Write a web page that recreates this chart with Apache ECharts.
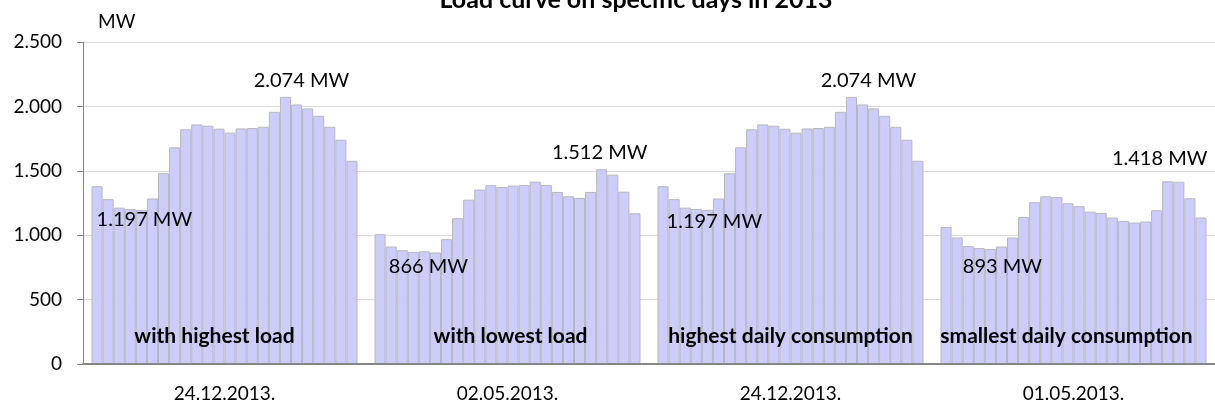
<!DOCTYPE html>
<html>
    <head>
        <meta charset="utf-8">
        <title>Load curve on specific days in 2013</title>
        <script src="https://cdn.jsdelivr.net/npm/echarts@6/dist/echarts.min.js"></script>
        <style>
            html, body { margin: 0; padding: 0; background: #fff; }
            #chart1 { width: 1215px; height: 405px; }
        </style>
    </head>
    <body>
        <div id="chart1"></div>
    </body>
    <script type="text/javascript">
        // podaci - satno opterecenje (MW)
        var dates = ['24.12.2013.', '02.05.2013.', '24.12.2013.', '01.05.2013.'];
        var dayNames = ['with highest load', 'with lowest load', 'highest daily consumption', 'smallest daily consumption'];
        var hours = ['1','2','3','4','5','6','7','8','9','10','11','12','13','14','15','16','17','18','19','20','21','22','23','24'];

        var load1 = [1380,1280,1214,1203,1197,1285,1481,1682,1822,1860,1850,1827,1796,1829,1832,1842,1958,2074,2015,1984,1927,1842,1741,1578];
        var load2 = [1008,912,884,870,875,866,969,1132,1276,1354,1388,1374,1385,1390,1416,1390,1336,1302,1289,1336,1512,1470,1338,1170];
        var load3 = [1380,1280,1214,1203,1197,1285,1481,1682,1822,1860,1850,1827,1796,1829,1832,1842,1958,2074,2015,1984,1927,1842,1741,1578];
        var load4 = [1064,982,915,900,893,912,982,1142,1256,1302,1297,1248,1225,1183,1173,1137,1111,1098,1106,1194,1418,1415,1287,1137];

        var loads = [load1, load2, load3, load4];
        var FONT = 'Lato';

        // 2074 -> "2.074"
        function fmt(v) {
            var s = String(v);
            return s.length > 3 ? s.slice(0, s.length - 3) + '.' + s.slice(-3) : s;
        }

        // rucno pomaknute oznake (kao u Excelu)
        var peakOff = [[16, -16], [-2, -17], [17, -16], [-8, -23]];
        var lowOff = [[3, 10], [-7, 14], [7, 12], [12, 18]];
        var nameOff = [-10, 3, 0, -7];

        var gTop = 42, gBottom = 41, gLeft = 83, plotW = 1215 - 83;
        var slot = plotW / 4, pad = 8.5;

        var grids = [{left: gLeft, right: 0, top: gTop, bottom: gBottom}];
        var xAxes = [{
            type: 'category', gridIndex: 0, data: dates, z: 5,
            axisLine: {lineStyle: {color: '#868686', width: 2}},
            axisTick: {length: 7, lineStyle: {color: '#000'}},
            axisLabel: {color: '#000', fontFamily: FONT, fontSize: 19, margin: 20}
        }];
        var yAxes = [{
            type: 'value', gridIndex: 0, min: 0, max: 2500, interval: 500,
            name: 'MW', nameLocation: 'end', nameGap: 20,
            nameTextStyle: {color: '#000', fontFamily: FONT, fontSize: 19, align: 'left', verticalAlign: 'middle', padding: [0, 0, 0, 15]},
            axisLine: {show: true, lineStyle: {color: '#868686'}},
            axisTick: {show: true, length: 6, lineStyle: {color: '#868686'}},
            axisLabel: {color: '#000', fontFamily: FONT, fontSize: 19, margin: 21, formatter: function (v) { return fmt(v); }},
            splitLine: {lineStyle: {color: '#d9d9d9'}}
        }];

        var series = [];
        loads.forEach(function (arr, g) {
            var gi = g + 1;
            grids.push({left: gLeft + g * slot + pad, width: slot - 2 * pad, top: gTop, bottom: gBottom});
            xAxes.push({type: 'category', gridIndex: gi, data: hours, show: false});
            yAxes.push({type: 'value', gridIndex: gi, min: 0, max: 2500, show: false, splitLine: {show: false}});
            var maxV = Math.max.apply(null, arr), minV = Math.min.apply(null, arr);
            var data = arr.map(function (v) {
                var off = null;
                if (v === maxV) off = peakOff[g];
                else if (v === minV) off = lowOff[g];
                if (!off) return v;
                return {
                    value: v,
                    label: {
                        show: true, position: 'top', distance: 0, verticalAlign: 'middle',
                        offset: off, formatter: fmt(v) + ' MW',
                        color: '#000', fontFamily: FONT, fontSize: 20
                    }
                };
            });
            series.push({
                type: 'bar', xAxisIndex: gi, yAxisIndex: gi,
                barCategoryGap: 0, data: data, silent: true,
                itemStyle: {color: '#ccccff', borderColor: '#b8b8b8', borderWidth: 1}
            });
        });

        // nazivi dana u dnu stupaca
        series.push({
            type: 'bar', xAxisIndex: 0, yAxisIndex: 0, z: 10, silent: true,
            itemStyle: {color: 'transparent'},
            data: dayNames.map(function (n, i) {
                return {
                    value: 0,
                    label: {
                        show: true, position: 'top', distance: 0, verticalAlign: 'middle',
                        offset: [nameOff[i], -27.5], formatter: n,
                        color: '#000', fontFamily: FONT, fontSize: 21, fontWeight: 'bold'
                    }
                };
            })
        });

        var myChart1 = echarts.init(document.getElementById('chart1'));
        myChart1.setOption({
            animation: false,
            title: {
                text: 'Load curve on specific days in 2013',
                left: 636, top: -13, padding: 0, textAlign: 'center',
                textStyle: {color: '#000', fontFamily: FONT, fontSize: 25, fontWeight: 'bold'}
            },
            grid: grids,
            xAxis: xAxes,
            yAxis: yAxes,
            series: series
        });
    </script>
</html>
